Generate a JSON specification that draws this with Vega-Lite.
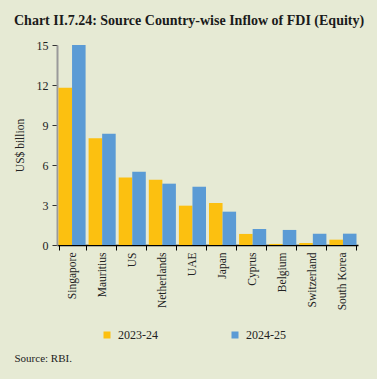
{
  "$schema": "https://vega.github.io/schema/vega-lite/v6.json",
  "width": 301,
  "height": 200,
  "autosize": {"type": "none"},
  "padding": {"left": 57, "top": 45, "right": 19, "bottom": 134},
  "background": "#e6ead4",
  "title": {
    "text": "Chart II.7.24: Source Country-wise Inflow of FDI (Equity)",
    "anchor": "start",
    "frame": "bounds",
    "font": "Liberation Serif",
    "fontSize": 14,
    "fontWeight": "bold",
    "color": "#1a1a1a",
    "offset": 11
  },
  "data": {
    "values": [
      {"country": "Singapore", "year": "2023-24", "value": 11.8},
      {"country": "Singapore", "year": "2024-25", "value": 15.0},
      {"country": "Mauritius", "year": "2023-24", "value": 8.0},
      {"country": "Mauritius", "year": "2024-25", "value": 8.35},
      {"country": "US", "year": "2023-24", "value": 5.07},
      {"country": "US", "year": "2024-25", "value": 5.5},
      {"country": "Netherlands", "year": "2023-24", "value": 4.9},
      {"country": "Netherlands", "year": "2024-25", "value": 4.6},
      {"country": "UAE", "year": "2023-24", "value": 2.95},
      {"country": "UAE", "year": "2024-25", "value": 4.37},
      {"country": "Japan", "year": "2023-24", "value": 3.15},
      {"country": "Japan", "year": "2024-25", "value": 2.5},
      {"country": "Cyprus", "year": "2023-24", "value": 0.83},
      {"country": "Cyprus", "year": "2024-25", "value": 1.2},
      {"country": "Belgium", "year": "2023-24", "value": 0.08},
      {"country": "Belgium", "year": "2024-25", "value": 1.13},
      {"country": "Switzerland", "year": "2023-24", "value": 0.15},
      {"country": "Switzerland", "year": "2024-25", "value": 0.85},
      {"country": "South Korea", "year": "2023-24", "value": 0.4},
      {"country": "South Korea", "year": "2024-25", "value": 0.85}
    ]
  },
  "mark": {"type": "bar"},
  "encoding": {
    "x": {
      "field": "country",
      "type": "nominal",
      "sort": ["Singapore", "Mauritius", "US", "Netherlands", "UAE", "Japan", "Cyprus", "Belgium", "Switzerland", "South Korea"],
      "scale": {"paddingInner": 0.1, "paddingOuter": 0.05},
      "axis": {
        "title": "Source: RBI.",
        "labelAngle": -90,
        "labelFont": "Liberation Serif",
        "labelFontSize": 11.5,
        "labelColor": "#222222",
        "labelPadding": 2,
        "domainColor": "#000000",
        "domainWidth": 1.5,
        "tickColor": "#000000",
        "tickSize": 5,
        "tickBand": "extent",
        "grid": false,
        "titleX": -43,
        "titleY": 113,
        "titleAnchor": "start",
        "titleAlign": "left",
        "titleBaseline": "middle",
        "titleFont": "Liberation Serif",
        "titleFontSize": 11,
        "titleFontWeight": "normal",
        "titleColor": "#222222"
      }
    },
    "xOffset": {"field": "year", "type": "nominal", "sort": ["2023-24", "2024-25"]},
    "y": {
      "field": "value",
      "type": "quantitative",
      "scale": {"domain": [0, 15]},
      "axis": {
        "title": "US$ billion",
        "values": [0, 3, 6, 9, 12, 15],
        "grid": false,
        "domainColor": "#9a9a9a",
        "domainWidth": 2,
        "tickColor": "#333333",
        "tickSize": 5,
        "labelPadding": 4,
        "labelFont": "Liberation Serif",
        "labelFontSize": 12,
        "labelColor": "#222222",
        "titleFont": "Liberation Serif",
        "titleFontSize": 11.5,
        "titleFontWeight": "normal",
        "titleColor": "#222222",
        "titlePadding": 11
      }
    },
    "color": {
      "field": "year",
      "type": "nominal",
      "scale": {"domain": ["2023-24", "2024-25"], "range": ["#fcc010", "#5b9bd5"]},
      "legend": {
        "orient": "none",
        "legendX": 44,
        "legendY": 284,
        "direction": "horizontal",
        "title": null,
        "symbolType": "square",
        "symbolSize": 49,
        "symbolStrokeWidth": 0,
        "labelFont": "Liberation Serif",
        "labelFontSize": 12,
        "labelColor": "#222222",
        "labelOffset": 5,
        "columnPadding": 71,
        "padding": 0
      }
    }
  },
  "config": {"view": {"stroke": null}, "font": "Liberation Serif"}
}
